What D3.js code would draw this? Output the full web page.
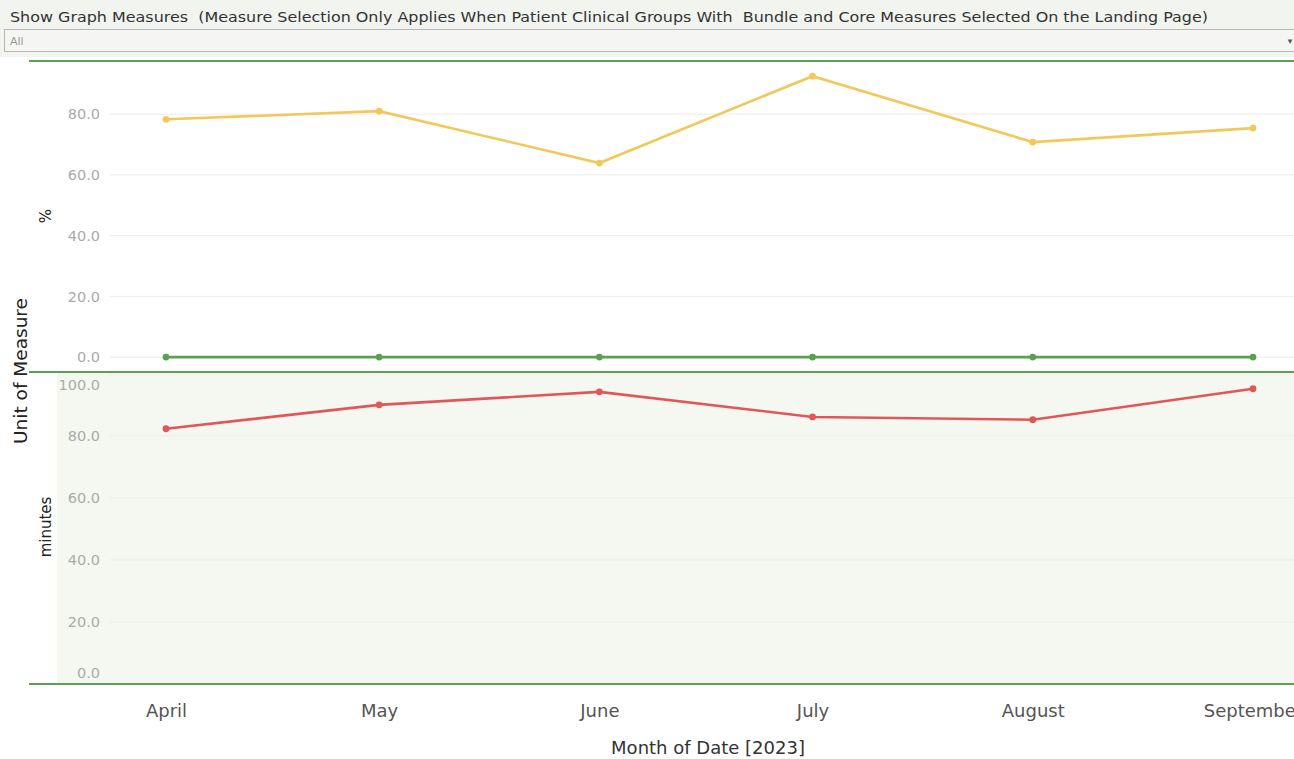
<!DOCTYPE html>
<html>
<head>
<meta charset="utf-8">
<script src="https://cdn.jsdelivr.net/npm/d3@7"></script>
<style>
  body { margin: 0; background: #fff; }
  svg { display: block; font-family: "DejaVu Sans", "Noto Sans", sans-serif; }
</style>
</head>
<body>
<div id="chart"></div>
<script>
//data
let months = ["2023-04-01", "2023-05-01", "2023-06-01", "2023-07-01", "2023-08-01", "2023-09-01"];
let pctYellow = [78.3, 81.0, 63.9, 92.5, 70.8, 75.4];
let pctGreen = [0, 0, 0, 0, 0, 0];
let minutesRed = [82.3, 90.0, 94.2, 86.1, 85.2, 95.2];
let pctTicks = [0, 20, 40, 60, 80];
let minuteTicks = [0, 20, 40, 60, 80, 100];

let width = 1294;
let height = 759;
let lineColor = "#5aa05a";
let parseDate = d3.utcParse("%Y-%m-%d");
let monthDates = months.map(parseDate);

var svg = d3.select("#chart")
        .append("svg")
        .attr("width", width)
        .attr("height", height);

//header area with the filter box
svg.append("rect")
  .attr("x", 0).attr("y", 0)
  .attr("width", width).attr("height", 57)
  .attr("fill", "#f2f4f0");

svg.append("text")
  .attr("x", 10).attr("y", 22)
  .attr("font-size", 14)
  .attr("fill", "#333")
  .attr("textLength", 1198)
  .attr("lengthAdjust", "spacingAndGlyphs")
  .style("white-space", "pre")
  .text("Show Graph Measures  (Measure Selection Only Applies When Patient Clinical Groups With  Bundle and Core Measures Selected On the Landing Page)");

svg.append("rect")
  .attr("x", 4.5).attr("y", 29.5)
  .attr("width", width).attr("height", 22)
  .attr("fill", "#f5f6f4")
  .attr("stroke", "#b8b8b8");

svg.append("text")
  .attr("x", 10).attr("y", 45)
  .attr("font-size", 11)
  .attr("fill", "#999")
  .text("All");

svg.append("text")
  .attr("x", 1290).attr("y", 44)
  .attr("font-size", 9)
  .attr("fill", "#555")
  .attr("text-anchor", "middle")
  .text("▾");

//continuous date axis, so month gaps follow the day counts
let x = d3.scaleUtc()
  .domain(d3.extent(monthDates))
  .range([166, 1253]);

//panel y scales
let yPct = d3.scaleLinear().domain([-4.9, 97.5]).range([372, 61]);
let yMin = d3.scaleLinear().domain([0, 100.6]).range([684, 372]);

//bottom panel background
svg.append("rect")
  .attr("x", 57).attr("y", 372)
  .attr("width", width - 57).attr("height", 312)
  .attr("fill", "#f5f8f0");

//gridlines
function drawGrid(scale, ticks){
  svg.append("g")
    .selectAll("line")
    .data(ticks)
    .enter()
    .append("line")
    .attr("x1", 110).attr("x2", width)
    .attr("y1", d => scale(d)).attr("y2", d => scale(d))
    .attr("stroke", "#ececec")
    .attr("stroke-width", 1);
}
drawGrid(yPct, pctTicks);
drawGrid(yMin, minuteTicks);

//tick labels, kept inside their panel like tableau does
function drawTicks(scale, ticks, top, bottom){
  let axis = d3.axisLeft(scale)
    .tickValues(ticks)
    .tickFormat(d3.format(".1f"))
    .tickSize(0)
    .tickPadding(0);
  let g = svg.append("g")
    .attr("transform", "translate(100,0)")
    .call(axis);
  g.select(".domain").remove();
  g.selectAll("text")
    .attr("font-size", 14.5)
    .attr("font-family", "\"DejaVu Sans\", sans-serif")
    .attr("fill", "#aaaaaa")
    .attr("y", d => {
      let p = scale(d);
      if(p - 13 < top) return top + 13 - p;
      if(p + 11 > bottom) return bottom - 11 - p;
      return 0;
    });
}
drawTicks(yPct, pctTicks, 61, 372);
drawTicks(yMin, minuteTicks, 372, 684);

//lines and points
function drawSeries(values, scale, color){
  let data = monthDates.map((m, i) => ({month: m, value: values[i]}));
  let line = d3.line()
    .x(d => x(d.month))
    .y(d => scale(d.value));
  svg.append("path")
    .datum(data)
    .attr("d", line)
    .attr("fill", "none")
    .attr("stroke", color)
    .attr("stroke-width", 2.6);
  svg.append("g")
    .selectAll("circle")
    .data(data)
    .enter()
    .append("circle")
    .attr("cx", d => x(d.month))
    .attr("cy", d => scale(d.value))
    .attr("r", 3.4)
    .attr("fill", color);
}
drawSeries(pctYellow, yPct, "#f2c85b");
drawSeries(pctGreen, yPct, "#59a14f");
drawSeries(minutesRed, yMin, "#e15759");

//panel separator lines
[61, 372, 684].forEach(yy => {
  svg.append("line")
    .attr("x1", 29).attr("x2", width)
    .attr("y1", yy).attr("y2", yy)
    .attr("stroke", lineColor)
    .attr("stroke-width", 2);
});

//month labels
let xAxis = d3.axisBottom(x)
  .tickValues(monthDates)
  .tickFormat(d3.utcFormat("%B"))
  .tickSize(0)
  .tickPadding(0);
let xg = svg.append("g")
  .attr("transform", "translate(0,717)")
  .call(xAxis);
xg.select(".domain").remove();
xg.selectAll("text")
  .attr("font-size", 18)
  .attr("font-family", "\"DejaVu Sans\", sans-serif")
  .attr("fill", "#555")
  .attr("dy", 0);

//axis titles
svg.append("text")
  .attr("x", 708).attr("y", 754)
  .attr("text-anchor", "middle")
  .attr("font-size", 18)
  .attr("fill", "#333")
  .text("Month of Date [2023]");

svg.append("text")
  .attr("transform", "translate(27,371) rotate(-90)")
  .attr("text-anchor", "middle")
  .attr("font-size", 18.5)
  .attr("fill", "#222")
  .text("Unit of Measure");

svg.append("text")
  .attr("transform", "translate(51,216) rotate(-90)")
  .attr("text-anchor", "middle")
  .attr("font-size", 15)
  .attr("fill", "#222")
  .text("%");

svg.append("text")
  .attr("transform", "translate(51,527) rotate(-90)")
  .attr("text-anchor", "middle")
  .attr("font-size", 15)
  .attr("fill", "#222")
  .text("minutes");
</script>
</body>
</html>
